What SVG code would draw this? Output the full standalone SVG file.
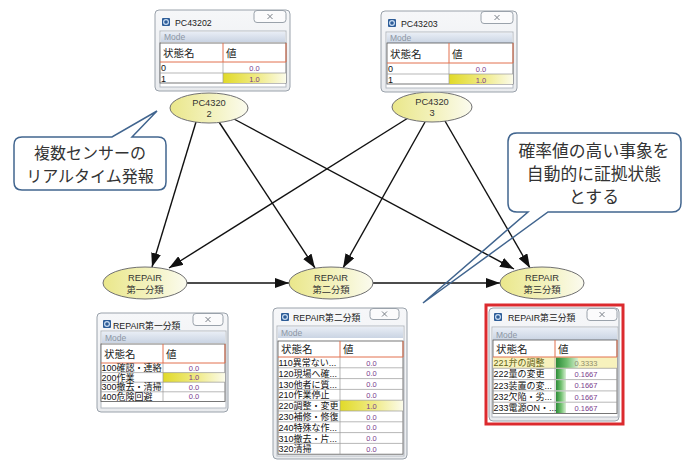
<svg xmlns="http://www.w3.org/2000/svg" width="688" height="461" viewBox="0 0 688 461">
  <defs>
    <linearGradient id="gEll" x1="0" y1="0" x2="1" y2="0">
      <stop offset="0" stop-color="#eae78a"/>
      <stop offset="0.6" stop-color="#f4f3c4"/>
      <stop offset="1" stop-color="#fbfbef"/>
    </linearGradient>
    <linearGradient id="gYel" x1="0" y1="0" x2="1" y2="0">
      <stop offset="0" stop-color="#e1da28"/>
      <stop offset="0.55" stop-color="#f0eb88"/>
      <stop offset="1" stop-color="#fbfbea"/>
    </linearGradient>
    <linearGradient id="gGrn" x1="0" y1="0" x2="1" y2="0">
      <stop offset="0" stop-color="#2b8a37"/>
      <stop offset="0.5" stop-color="#6fbf6e"/>
      <stop offset="1" stop-color="#d9efd4"/>
    </linearGradient>
    <linearGradient id="gMode" x1="0" y1="0" x2="0" y2="1">
      <stop offset="0" stop-color="#e8edf5"/>
      <stop offset="1" stop-color="#cad4e3"/>
    </linearGradient>
    <linearGradient id="gFrame" x1="0" y1="0" x2="0" y2="1">
      <stop offset="0" stop-color="#f6f7f9"/>
      <stop offset="1" stop-color="#e9ebee"/>
    </linearGradient>
    <marker id="ah" markerWidth="14" markerHeight="10" refX="14" refY="5" orient="auto" markerUnits="userSpaceOnUse">
      <path d="M0,0 L14,5 L0,10 z" fill="#111"/>
    </marker>
  </defs>
  <style>
    .frame { fill: url(#gFrame); stroke: #9aa2ab; stroke-width: 1; }
    .btn { fill: #fbfbfc; stroke: #9aa2ab; stroke-width: 1; }
    .xic { stroke: #7a8088; stroke-width: 1; fill: none; }
    .icon { fill: #2d5c97; }
    .iconc { fill: none; stroke: #c9dcf2; stroke-width: 1.2; }
    .ttl { font-family: "Liberation Sans", "Noto Sans CJK JP", sans-serif; font-size: 8.8px; fill: #222; }
    .panel { fill: #ffffff; stroke: #b4bac2; stroke-width: 1; }
    .mode { fill: url(#gMode); }
    .modet { font-family: "Liberation Sans", sans-serif; font-size: 8.5px; fill: #8c96a4; }
    .tbl { fill: #ffffff; stroke: #555; stroke-width: 0.8; }
    .hdr { stroke: #e2714f; stroke-width: 1; fill: none; }
    .grid { stroke: #999; stroke-width: 0.7; fill: none; }
    .ht { font-family: "Noto Sans CJK JP", sans-serif; font-size: 10.5px; fill: #222; }
    .rt { font-family: "Liberation Sans", "Noto Sans CJK JP", sans-serif; font-size: 9px; fill: #111; }
    .vt { font-family: "Liberation Sans", sans-serif; font-size: 7.5px; fill: #7a3d8c; text-anchor: middle; }
    .ell { fill: url(#gEll); stroke: #707070; stroke-width: 1; }
    .et { font-family: "Liberation Sans", "Noto Sans CJK JP", sans-serif; font-size: 9.3px; fill: #333; text-anchor: middle; }
    .conn { stroke: #111; stroke-width: 1.4; fill: none; marker-end: url(#ah); }
    .cbox { stroke: #41658f; stroke-width: 1.5; }
    .ct { font-family: "Noto Sans CJK JP", sans-serif; font-size: 16px; fill: #333; text-anchor: middle; }
  </style>

  <rect width="688" height="461" fill="#ffffff"/>

  <!-- connectors -->
  <g id="connectors">
    <line class="conn" x1="196" y1="122" x2="152" y2="267"/>
    <line class="conn" x1="219" y1="122" x2="315" y2="268"/>
    <line class="conn" x1="234" y1="119" x2="514" y2="269"/>
    <line class="conn" x1="408" y1="118" x2="169" y2="268"/>
    <line class="conn" x1="425" y1="122" x2="343" y2="268"/>
    <line class="conn" x1="445" y1="121" x2="530" y2="268"/>
    <line class="conn" x1="187" y1="283" x2="289" y2="283"/>
    <line class="conn" x1="373" y1="283" x2="500" y2="283"/>
  </g>

  <!-- sensor nodes -->
  <g id="node-pc43202">
    <ellipse class="ell" cx="209" cy="108" rx="39" ry="15"/>
    <text class="et" x="209" y="106">PC4320</text>
    <text class="et" x="209" y="117">2</text>
  </g>
  <g id="node-pc43203">
    <ellipse class="ell" cx="432" cy="107" rx="40" ry="15"/>
    <text class="et" x="432" y="105">PC4320</text>
    <text class="et" x="432" y="116">3</text>
  </g>

  <!-- classification nodes -->
  <g id="node-repair1">
    <ellipse class="ell" cx="145" cy="283" rx="42" ry="16"/>
    <text class="et" x="145" y="281">REPAIR</text>
    <text class="et" x="145" y="293">第一分類</text>
  </g>
  <g id="node-repair2">
    <ellipse class="ell" cx="331" cy="283" rx="42" ry="16"/>
    <text class="et" x="331" y="281">REPAIR</text>
    <text class="et" x="331" y="293">第二分類</text>
  </g>
  <g id="node-repair3">
    <ellipse class="ell" cx="542" cy="283" rx="42" ry="16"/>
    <text class="et" x="542" y="281">REPAIR</text>
    <text class="et" x="542" y="293">第三分類</text>
  </g>

  <!-- monitor window: PC43202 -->
  <g id="win-pc43202" transform="translate(155,10)">
    <rect class="frame" x="0" y="0" width="135" height="81" rx="4"/>
    <rect class="icon" x="7" y="8" width="8" height="8" rx="1"/>
    <circle class="iconc" cx="11" cy="12" r="2.4"/>
    <text class="ttl" x="20" y="16">PC43202</text>
    <rect class="btn" x="99" y="0.5" width="32" height="12" rx="3"/>
    <path class="xic" d="M112.5,4 l5,5 m0,-5 l-5,5"/>
    <rect class="panel" x="5" y="21" width="126" height="56"/>
    <rect class="mode" x="6" y="22" width="124" height="10"/>
    <text class="modet" x="9" y="30">Mode</text>
    <rect class="tbl" x="5" y="33" width="126" height="40"/>
    <rect x="68" y="63" width="63" height="10" fill="url(#gYel)"/>
    <path class="grid" d="M5,63 H131 M68,52 V73"/>
    <path class="hdr" d="M5,52 H131 M68,33 V52 M131,33 V52"/>
    <text class="ht" x="8" y="47">状態名</text>
    <text class="ht" x="71" y="47">値</text>
    <text class="rt" x="6" y="61">0</text>
    <text class="rt" x="6" y="71.5">1</text>
    <text class="vt" x="99.5" y="61">0.0</text>
    <text class="vt" x="99.5" y="71.5">1.0</text>
  </g>

  <!-- monitor window: PC43203 -->
  <g id="win-pc43203" transform="translate(381,11)">
    <rect class="frame" x="0" y="0" width="136" height="81" rx="4"/>
    <rect class="icon" x="7" y="8" width="8" height="8" rx="1"/>
    <circle class="iconc" cx="11" cy="12" r="2.4"/>
    <text class="ttl" x="20" y="16">PC43203</text>
    <rect class="btn" x="100" y="0.5" width="32" height="12" rx="3"/>
    <path class="xic" d="M113.5,4 l5,5 m0,-5 l-5,5"/>
    <rect class="panel" x="5" y="21" width="127" height="56"/>
    <rect class="mode" x="6" y="22" width="125" height="10"/>
    <text class="modet" x="9" y="30">Mode</text>
    <rect class="tbl" x="6" y="32" width="126" height="41"/>
    <rect x="68" y="63" width="64" height="10" fill="url(#gYel)"/>
    <path class="grid" d="M6,63 H132 M68,52 V73"/>
    <path class="hdr" d="M6,52 H132 M68,32 V52 M132,32 V52"/>
    <text class="ht" x="9" y="47">状態名</text>
    <text class="ht" x="71" y="47">値</text>
    <text class="rt" x="7" y="61">0</text>
    <text class="rt" x="7" y="71.5">1</text>
    <text class="vt" x="100" y="61">0.0</text>
    <text class="vt" x="100" y="71.5">1.0</text>
  </g>

  <!-- monitor window: REPAIR第一分類 -->
  <g id="win-repair1" transform="translate(97,313)">
    <rect class="frame" x="0" y="0" width="131" height="99" rx="4"/>
    <rect class="icon" x="6" y="7" width="8" height="8" rx="1"/>
    <circle class="iconc" cx="10" cy="11" r="2.4"/>
    <text class="ttl" x="16" y="16">REPAIR第一分類</text>
    <rect class="btn" x="96" y="0.5" width="30" height="12" rx="3"/>
    <path class="xic" d="M108.5,4 l5,5 m0,-5 l-5,5"/>
    <rect class="panel" x="4" y="18" width="125" height="77"/>
    <rect class="mode" x="5" y="19" width="123" height="11"/>
    <text class="modet" x="8" y="28">Mode</text>
    <rect class="tbl" x="4" y="31" width="124" height="57.4"/>
    <rect x="66" y="59.6" width="62" height="9.6" fill="url(#gYel)"/>
    <path class="grid" d="M4,59.6 H128 M4,69.2 H128 M4,78.8 H128 M66,50 V88.4"/>
    <path class="hdr" d="M4,50 H128 M66,31 V50 M128,31 V50"/>
    <text class="ht" x="7" y="45">状態名</text>
    <text class="ht" x="69" y="45">値</text>
    <text class="rt" x="4.5" y="58">100確認・連絡</text>
    <text class="rt" x="4.5" y="67.6">200作業</text>
    <text class="rt" x="4.5" y="77.2">300撤去・清掃</text>
    <text class="rt" x="4.5" y="86.8">400危険回避</text>
    <text class="vt" x="97" y="57.6">0.0</text>
    <text class="vt" x="97" y="67.2">1.0</text>
    <text class="vt" x="97" y="76.8">0.0</text>
    <text class="vt" x="97" y="86.4">0.0</text>
  </g>

  <!-- monitor window: REPAIR第二分類 -->
  <g id="win-repair2" transform="translate(273,308)">
    <rect class="frame" x="0" y="0" width="134" height="151" rx="4"/>
    <rect class="icon" x="8" y="5" width="8" height="8" rx="1"/>
    <circle class="iconc" cx="12" cy="9" r="2.4"/>
    <text class="ttl" x="20" y="13">REPAIR第二分類</text>
    <rect class="btn" x="97" y="0.5" width="29" height="11" rx="3"/>
    <path class="xic" d="M109,3.5 l5,5 m0,-5 l-5,5"/>
    <rect class="panel" x="4" y="18" width="127" height="130"/>
    <rect class="mode" x="5" y="19" width="125" height="11"/>
    <text class="modet" x="8" y="28">Mode</text>
    <rect class="tbl" x="5" y="33" width="125" height="113.2"/>
    <rect x="67" y="92.2" width="63" height="10.8" fill="url(#gYel)"/>
    <path class="grid" d="M5,59.8 H130 M5,70.6 H130 M5,81.4 H130 M5,92.2 H130 M5,103 H130 M5,113.8 H130 M5,124.6 H130 M5,135.4 H130 M67,49 V146.2"/>
    <path class="hdr" d="M5,49 H130 M67,33 V49 M130,33 V49"/>
    <text class="ht" x="8" y="45">状態名</text>
    <text class="ht" x="70" y="45">値</text>
    <text class="rt" x="5.5" y="58">110異常ない...</text>
    <text class="rt" x="5.5" y="68.8">120現場へ確...</text>
    <text class="rt" x="5.5" y="79.6">130他者に質...</text>
    <text class="rt" x="5.5" y="90.4">210作業停止</text>
    <text class="rt" x="5.5" y="101.2">220調整・変更</text>
    <text class="rt" x="5.5" y="112">230補修・修復</text>
    <text class="rt" x="5.5" y="122.8">240特殊な作...</text>
    <text class="rt" x="5.5" y="133.6">310撤去・片...</text>
    <text class="rt" x="5.5" y="144.4">320清掃</text>
    <text class="vt" x="98.5" y="57.6">0.0</text>
    <text class="vt" x="98.5" y="68.4">0.0</text>
    <text class="vt" x="98.5" y="79.2">0.0</text>
    <text class="vt" x="98.5" y="90">0.0</text>
    <text class="vt" x="98.5" y="100.8">1.0</text>
    <text class="vt" x="98.5" y="111.6">0.0</text>
    <text class="vt" x="98.5" y="122.4">0.0</text>
    <text class="vt" x="98.5" y="133.2">0.0</text>
    <text class="vt" x="98.5" y="144">0.0</text>
  </g>

  <!-- monitor window: REPAIR第三分類 (highlighted) -->
  <g id="win-repair3">
    <g transform="translate(489,308)">
      <rect class="frame" x="0" y="0" width="130" height="113" rx="4"/>
      <rect class="icon" x="5" y="5" width="8" height="8" rx="1"/>
      <circle class="iconc" cx="9" cy="9" r="2.4"/>
      <text class="ttl" x="19" y="13">REPAIR第三分類</text>
      <rect class="btn" x="98" y="0.5" width="30" height="12" rx="3"/>
      <path class="xic" d="M110.5,4 l5,5 m0,-5 l-5,5"/>
      <rect class="panel" x="3" y="19" width="126" height="90"/>
      <rect class="mode" x="4" y="20" width="124" height="12"/>
      <text class="modet" x="7" y="29.5">Mode</text>
      <rect class="tbl" x="4" y="32" width="124" height="73.5"/>
      <rect x="4" y="49" width="124" height="11.3" fill="#f7f2bd"/>
      <rect x="67" y="49.5" width="22" height="10.3" fill="url(#gGrn)"/>
      <rect x="67" y="60.8" width="10" height="10.3" fill="url(#gGrn)"/>
      <rect x="67" y="72.1" width="10" height="10.3" fill="url(#gGrn)"/>
      <rect x="67" y="83.4" width="10" height="10.3" fill="url(#gGrn)"/>
      <rect x="67" y="94.7" width="10" height="10.3" fill="url(#gGrn)"/>
      <path class="grid" d="M4,60.3 H128 M4,71.6 H128 M4,82.9 H128 M4,94.2 H128 M66,49 V105.5"/>
      <path class="hdr" d="M4,49 H128 M66,32 V49 M128,32 V49"/>
      <text class="ht" x="7" y="45">状態名</text>
      <text class="ht" x="69" y="45">値</text>
      <text class="rt" x="4.5" y="58" fill="#5f5e14" style="fill:#5f5e14">221弁の調整</text>
      <text class="rt" x="4.5" y="69.3">222量の変更</text>
      <text class="rt" x="4.5" y="80.6">223装置の変...</text>
      <text class="rt" x="4.5" y="91.9">232欠陥・劣...</text>
      <text class="rt" x="4.5" y="103.2">233電源ON・...</text>
      <text class="vt" x="97" y="57.6" style="fill:#8e8c6a">0.3333</text>
      <text class="vt" x="97" y="68.9">0.1667</text>
      <text class="vt" x="97" y="80.2">0.1667</text>
      <text class="vt" x="97" y="91.5">0.1667</text>
      <text class="vt" x="97" y="102.8">0.1667</text>
    </g>
    <rect x="486" y="305" width="137" height="119" fill="none" stroke="#dc2a2e" stroke-width="3"/>
  </g>

  <!-- callout: sensor reporting -->
  <g id="callout-sensors">
    <path class="cbox" fill="#ffffff" d="M22,137 H112 L157,111 L132,137 H158 Q166,137 166,145 V182 Q166,190 158,190 H22 Q14,190 14,182 V145 Q14,137 22,137 Z"/>
    <text class="ct" x="90" y="159">複数センサーの</text>
    <text class="ct" x="90" y="182">リアルタイム発報</text>
  </g>

  <!-- callout: evidence state -->
  <g id="callout-evidence">
    <rect x="508" y="133" width="173" height="79" rx="9" fill="#ffffff"/>
    <path class="cbox" fill="none" d="M528,212 H517 Q508,212 508,203 V142 Q508,133 517,133 H672 Q681,133 681,142 V203 Q681,212 672,212 H548 L423,303 Z"/>
    <text class="ct" x="594" y="157" style="font-size:16.8px">確率値の高い事象を</text>
    <text class="ct" x="594" y="180" style="font-size:16.8px">自動的に証拠状態</text>
    <text class="ct" x="594" y="203" style="font-size:16.8px">とする</text>
  </g>
</svg>
